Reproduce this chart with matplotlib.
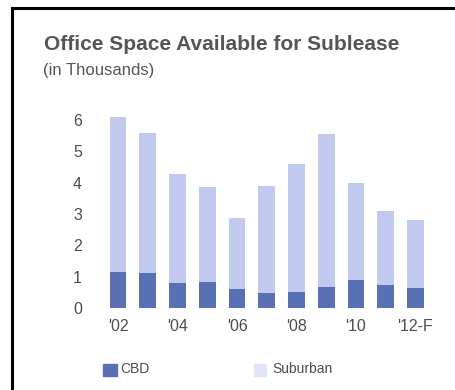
import matplotlib
matplotlib.use("Agg")
import matplotlib.pyplot as plt
from matplotlib import font_manager
from matplotlib.patches import Rectangle
from matplotlib.lines import Line2D

years = ["'02", "'03", "'04", "'05", "'06", "'07", "'08", "'09", "'10", "'11", "'12-F"]
totals = [6.1, 5.6, 4.28, 3.87, 2.87, 3.9, 4.6, 5.54, 4.0, 3.1, 2.81]
cbd = [1.16, 1.13, 0.79, 0.84, 0.6, 0.47, 0.52, 0.66, 0.9, 0.75, 0.63]
suburban = [t - c for t, c in zip(totals, cbd)]
y_ticks = [0, 1, 2, 3, 4, 5, 6]
shown_labels = ["'02", "'04", "'06", "'08", "'10", "'12-F"]

title = "Office Space Available for Sublease"
subtitle = "(in Thousands)"

names = {f.name for f in font_manager.fontManager.ttflist}
narrow = "Liberation Sans Narrow" if "Liberation Sans Narrow" in names else "Liberation Sans"

plt.rcParams['font.family'] = ['Liberation Sans', 'DejaVu Sans']

fig = plt.figure(figsize=(4.55, 3.9), dpi=100)
fig.patch.set_facecolor('white')

c_cbd = '#5a70b4'
c_sub = '#c2c9ef'
c_text = '#4d4d4d'

ax = fig.add_axes([97.2/455, 82/390, 339.1/455, 197.4/390])
x = list(range(len(years)))
ax.bar(x, cbd, width=0.57, color=c_cbd, zorder=2)
ax.bar(x, suburban, bottom=cbd, width=0.57, color=c_sub, zorder=2)
ax.set_xlim(-0.7, 10.7)
ax.set_ylim(0, 6.3)
ax.axhline(0, color='#e2e2e2', lw=0.8, zorder=1)
for s in ax.spines.values():
    s.set_visible(False)
ax.set_yticks(y_ticks)
ax.set_yticklabels([str(v) for v in y_ticks], color=c_text, fontsize=11.5)
ax.set_xticks([i for i, y in enumerate(years) if y in shown_labels])
ax.set_xticklabels([y for y in years if y in shown_labels], color=c_text, fontsize=11.5)
ax.tick_params(axis='both', length=0)
ax.tick_params(axis='y', pad=11)
ax.tick_params(axis='x', pad=8)

fig.text(44/455, 1 - 45/390, title, fontsize=15, fontweight='bold', color='#555555', va='center', ha='left')
fig.text(43/455, 1 - 70/390, subtitle, fontsize=12, color='#555555', va='center', ha='left')

# frame
fig.add_artist(Line2D([12/455, 12/455], [0, 1 - 7.5/390], color='black', lw=2.2, transform=fig.transFigure))
fig.add_artist(Line2D([12/455, 1], [1 - 7.5/390, 1 - 7.5/390], color='black', lw=2.2, transform=fig.transFigure))

# legend
fig.add_artist(Rectangle((103/455, 1 - 376/390), 14/455, 12/390, color=c_cbd, transform=fig.transFigure))
fig.text(120/455, 1 - 369/390, "CBD", fontsize=10, family=narrow, color=c_text, va='center', ha='left')
fig.add_artist(Rectangle((254/455, 1 - 376/390), 12/455, 12/390, color='#e2e5f8', transform=fig.transFigure))
fig.text(272/455, 1 - 369/390, "Suburban", fontsize=10, family=narrow, color=c_text, va='center', ha='left')

fig.savefig("out.png", dpi=100)
